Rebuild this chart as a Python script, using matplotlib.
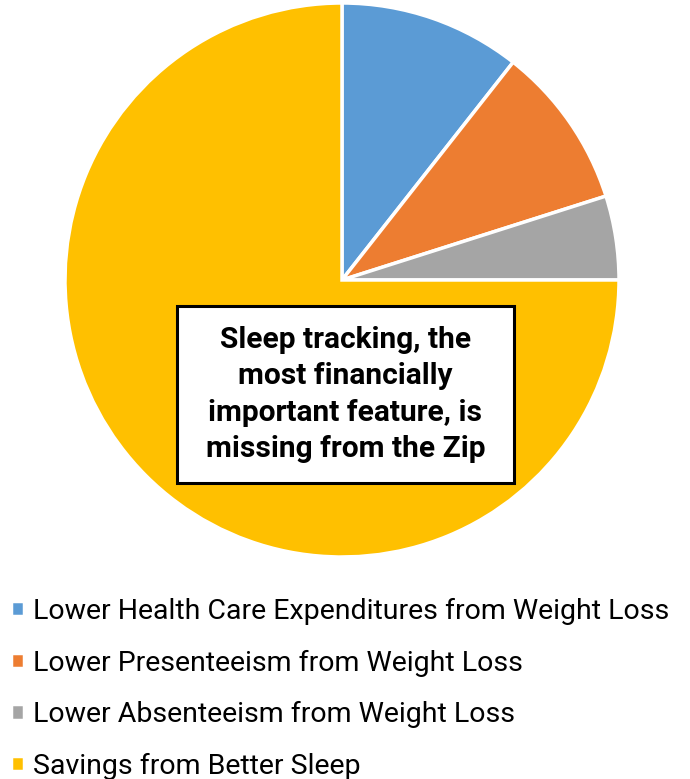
import matplotlib
matplotlib.use("Agg")
import matplotlib.pyplot as plt
from matplotlib.patches import Rectangle

categories = ["Lower Health Care Expenditures from Weight Loss",
              "Lower Presenteeism from Weight Loss",
              "Lower Absenteeism from Weight Loss",
              "Savings from Better Sleep"]
values = [10.6, 9.5, 4.9, 75.0]
colors = ["#5B9BD5", "#ED7D31", "#A5A5A5", "#FFC000"]
annotation = "Sleep tracking, the\nmost financially\nimportant feature, is\nmissing from the Zip"

W, H = 690, 779
fig = plt.figure(figsize=(W/100, H/100), dpi=100)
plt.rcParams['font.family'] = ['Roboto', 'DejaVu Sans']

cx, cy, r = 342, 280, 277
ax = fig.add_axes([(cx-r)/W, (H-cy-r)/H, 2*r/W, 2*r/H])
wedges, _ = ax.pie(values, colors=colors, startangle=90, counterclock=False,
                   radius=1, wedgeprops=dict(edgecolor="white", linewidth=2.5))
ax.set_xlim(-1, 1); ax.set_ylim(-1, 1); ax.set_aspect('equal'); ax.axis('off')

# annotation box
bx0, bx1, by0, by1 = 177, 514, 306, 483
fig.patches.append(Rectangle((bx0/W, 1-by1/H), (bx1-bx0)/W, (by1-by0)/H,
                             transform=fig.transFigure, facecolor="white",
                             edgecolor="black", linewidth=2.2, zorder=5))
fig.text((bx0+bx1)/2/W, 1-(by0+by1)/2/H, annotation, ha="center", va="center",
         fontsize=21.5, fontweight="bold", linespacing=1.37, zorder=6)

leg = fig.legend(wedges, categories, loc="upper left",
                 bbox_to_anchor=(11/W, 1-598/H), frameon=False, borderpad=0,
                 fontsize=20.5, handlelength=0.46, handleheight=0.44,
                 handletextpad=0.3, labelspacing=0.86, borderaxespad=0)

fig.savefig("out.png", dpi=100)
